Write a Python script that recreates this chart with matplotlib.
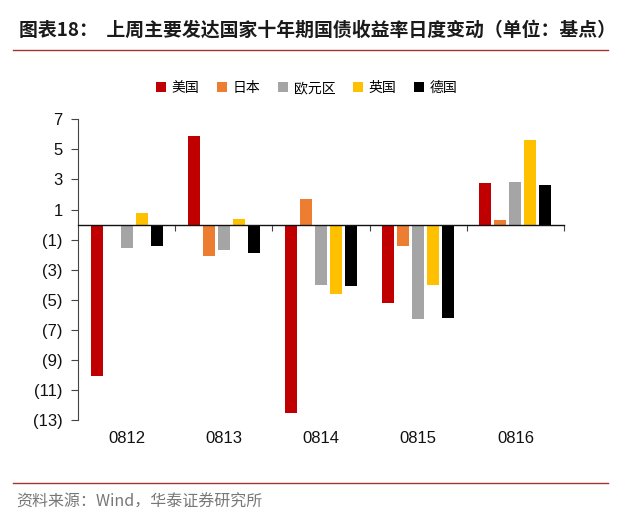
import numpy as np
import matplotlib.pyplot as plt
from matplotlib.patches import Patch
from matplotlib.lines import Line2D

plt.rcParams['font.family'] = ['Liberation Sans', 'Noto Sans CJK SC', 'DejaVu Sans']

dates = ['0812', '0813', '0814', '0815', '0816']
series_names = ['美国', '日本', '欧元区', '英国', '德国']
us = [-10.1, 5.9, -12.5, -5.2, 2.75]
japan = [0.0, -2.1, 1.7, -1.4, 0.3]
euro = [-1.55, -1.7, -4.05, -6.3, 2.8]
uk = [0.8, 0.4, -4.6, -4.0, 5.6]
germany = [-1.4, -1.9, -4.1, -6.2, 2.6]
colors = ['#C00000', '#ED7D31', '#A5A5A5', '#FFC000', '#000000']
yticks = [7, 5, 3, 1, -1, -3, -5, -7, -9, -11, -13]


def fmt(v):
    return f'({abs(v)})' if v < 0 else str(v)


fig = plt.figure(figsize=(6.2, 5.3), dpi=100)
ax = fig.add_axes([0.1258, 0.2075, 0.7839, 0.5674])

x = np.arange(len(dates))
slot = 0.154
width = 0.123
for i, (vals, c) in enumerate(zip([us, japan, euro, uk, germany], colors)):
    ax.bar(x + (i - 2) * slot, vals, width=width, color=c, zorder=2)

ax.set_xlim(-0.5, len(dates) - 0.5)
ax.set_ylim(-13, 7)
ax.set_yticks(yticks)
ax.set_yticklabels([fmt(v) for v in yticks], fontsize=12, color='#111111')
ax.tick_params(axis='y', length=5, width=0.8, color='#444444', pad=6)

for s in ['top', 'right']:
    ax.spines[s].set_visible(False)
ax.spines['left'].set_color('#444444')
ax.spines['bottom'].set_position(('data', 0))
ax.spines['bottom'].set_color('#111111')
ax.spines['bottom'].set_linewidth(1.0)
ax.spines['bottom'].set_zorder(3)

# ticks sit between the date groups on the zero line
ax.set_xticks(np.arange(len(dates)) + 0.5)
ax.set_xticklabels([])
ax.tick_params(axis='x', length=4, width=0.8, color='#444444', direction='out')
for i, d in enumerate(dates):
    ax.text(i, -13.7, d, ha='center', va='top', fontsize=12, color='#111111')

handles = [Patch(facecolor=c, edgecolor='none') for c in colors]
fig.legend(handles, series_names, loc='center', bbox_to_anchor=(0.495, 0.834),
           ncol=5, frameon=False, handlelength=0.7, handleheight=0.7,
           handletextpad=0.4, columnspacing=1.3,
           prop={'family': ['Noto Sans CJK SC'], 'size': 10})

fig.text(0.03, 0.943, '图表18：  上周主要发达国家十年期国债收益率日度变动（单位：基点）',
         fontsize=13.6, fontweight='bold', color='#1a1a1a', va='center',
         family=['Noto Sans CJK SC', 'DejaVu Sans'])
fig.add_artist(Line2D([0.021, 0.981], [0.906, 0.906], color='#A83232', lw=1.0))
fig.add_artist(Line2D([0.021, 0.981], [0.089, 0.089], color='#A83232', lw=1.0))
fig.text(0.026, 0.052, '资料来源：Wind，华泰证券研究所', fontsize=11.5, color='#777777',
         va='center', family=['Noto Sans CJK SC', 'DejaVu Sans'])

fig.savefig('out.png', dpi=100, facecolor='white')
